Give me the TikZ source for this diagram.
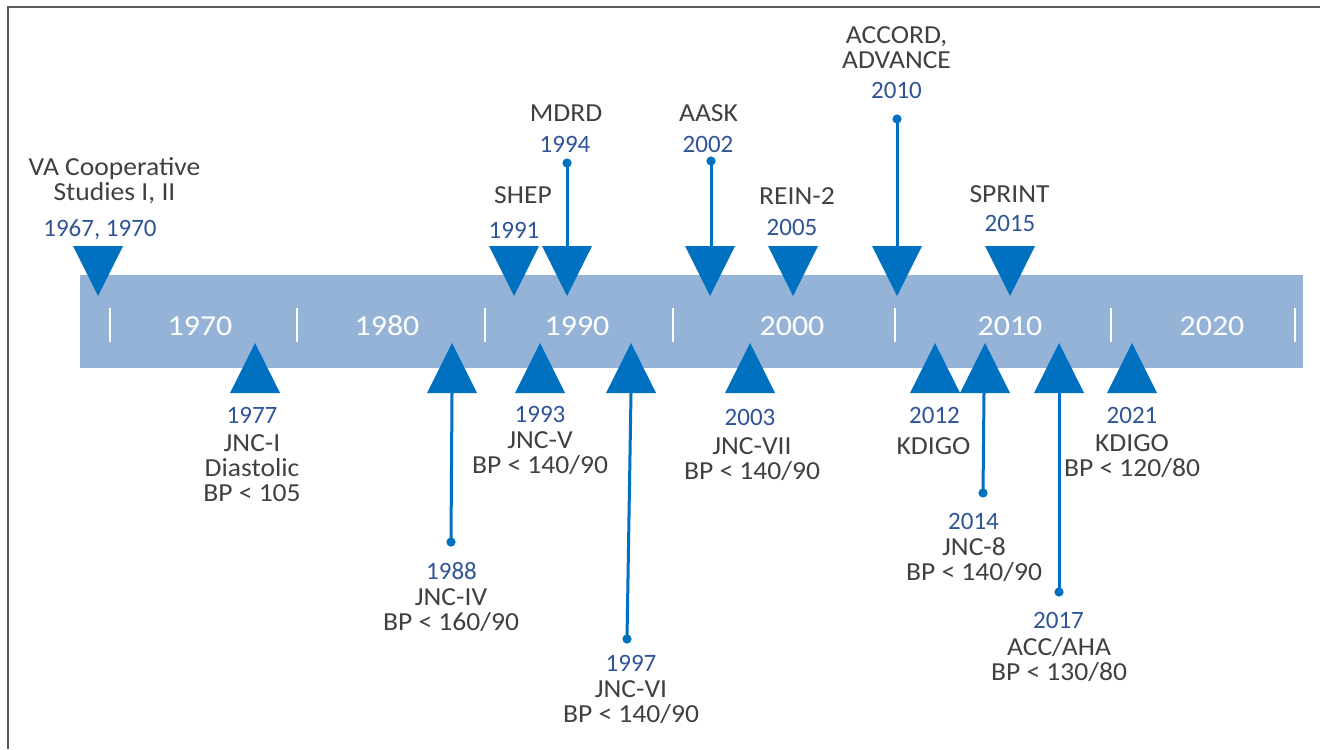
\documentclass[tikz,border=0pt]{standalone}
\usepackage{fontspec}
\setmainfont{Carlito}
\newfontfamily\lblfont[FakeStretch=1.06]{Carlito}
\newfontfamily\decfont[FakeStretch=1.1]{Carlito}
\definecolor{bandblue}{HTML}{95B3D7}
\definecolor{markblue}{HTML}{0070C0}
\definecolor{yearblue}{HTML}{2F5597}
\definecolor{lblgray}{HTML}{404040}

\begin{document}
\begin{tikzpicture}[x=0.5pt, y=-0.5pt,
    yr/.style={text=yearblue, font=\fontsize{12.5}{12.5}\selectfont, inner sep=0pt},
    lbl/.style={text=lblgray, font=\lblfont\fontsize{13}{12.5}\selectfont, align=center, inner sep=0pt},
    decade/.style={text=white, font=\decfont\fontsize{14.5}{15}\selectfont, inner sep=0pt},
    stem/.style={markblue, line width=1.5pt}]
      \useasboundingbox (0,0) rectangle (1320,749);
      % 0. 外框 (只看得到上邊與左邊)
      \draw[black!65, line width=1pt] (8,749) -- (8,7.5) -- (1320,7.5);

      % 1. 時間帶與刻度
      \fill[bandblue] (80,275) rectangle (1303,368);
      \foreach \x in {110,297,485,673,895,1111,1295}
        \draw[white, line width=1pt] (\x,308) -- (\x,342);
      \foreach \x/\d in {200/1970, 387/1980, 577/1990, 792/2000, 1010/2010, 1212/2020}
        \node[decade] (D_\d) at (\x,326) {\d};

      % 2. 上方的三角形
      \foreach \x in {98,514,567,710,793,897,1010}
        \fill[markblue] (\x-25,246) -- (\x+25,246) -- (\x,296) -- cycle;
      % 3. 下方的三角形
      \foreach \x in {255,452,540,631,750,935,985,1059,1132}
        \fill[markblue] (\x-25,393) -- (\x+25,393) -- (\x,343) -- cycle;

      % 4. 引線與圓點
      \foreach \n/\xa/\ya/\xb/\yb in {MDRD/567/163/567/246, AASK/711/161/711/246,
          ACCORD/897/119/897/246, JNC_4/451/542/452/393, JNC_6/627/639/631/393,
          JNC_8/983/493/984/393, ACC/1059/592/1059/393} {
        \coordinate (\n_dot) at (\xa,\ya);
        \coordinate (\n_tip) at (\xb,\yb);
        \draw[stem] (\n_dot) -- (\n_tip);
        \fill[markblue] (\n_dot) circle[radius=2.3pt];
      }

      % 5. 上方的文字
      \node[lbl] (VA) at (114.5,181) {VA Cooperative\\Studies I, II};
      \node[yr] (VA_y) at (100,229.5) {1967, 1970};
      \node[lbl] (SHEP) at (523,195) {SHEP};
      \node[yr] (SHEP_y) at (514,230) {1991};
      \node[lbl] (MDRD) at (566,113) {MDRD};
      \node[yr] (MDRD_y) at (565,144.5) {1994};
      \node[lbl] (AASK) at (708.5,113) {AASK};
      \node[yr] (AASK_y) at (708,144) {2002};
      \node[lbl] (REIN) at (797,196) {REIN-2};
      \node[yr] (REIN_y) at (792,227.5) {2005};
      \node[lbl] (ACCORD) at (896.5,48) {ACCORD,\\ADVANCE};
      \node[yr] (ACCORD_y) at (896.5,90.5) {2010};
      \node[lbl] (SPRINT) at (1009.5,194) {SPRINT};
      \node[yr] (SPRINT_y) at (1010,223.5) {2015};

      % 6. 下方的文字
      \node[yr] (JNC_1_y) at (252,415.5) {1977};
      \node[lbl] (JNC_1) at (252,468) {JNC-I\\Diastolic\\BP < 105};
      \node[yr] (JNC_4_y) at (451.5,571) {1988};
      \node[lbl] (JNC_4) at (451,610.5) {JNC-IV\\BP < 160/90};
      \node[yr] (JNC_5_y) at (540,414) {1993};
      \node[lbl] (JNC_5) at (540,453) {JNC-V\\BP < 140/90};
      \node[yr] (JNC_6_y) at (631,663) {1997};
      \node[lbl] (JNC_6) at (631,702) {JNC-VI\\BP < 140/90};
      \node[yr] (JNC_7_y) at (750,417) {2003};
      \node[lbl] (JNC_7) at (752,459) {JNC-VII\\BP < 140/90};
      \node[yr] (KD_1_y) at (934.5,415) {2012};
      \node[lbl] (KD_1) at (933.5,446.5) {KDIGO};
      \node[yr] (JNC_8_y) at (973.5,521) {2014};
      \node[lbl] (JNC_8) at (974,560) {JNC-8\\BP < 140/90};
      \node[yr] (ACC_y) at (1058.5,620) {2017};
      \node[lbl] (ACC) at (1059,659.5) {ACC/AHA\\BP < 130/80};
      \node[yr] (KD_2_y) at (1132,415) {2021};
      \node[lbl] (KD_2) at (1132,456) {KDIGO\\BP < 120/80};
\end{tikzpicture}
\end{document}
